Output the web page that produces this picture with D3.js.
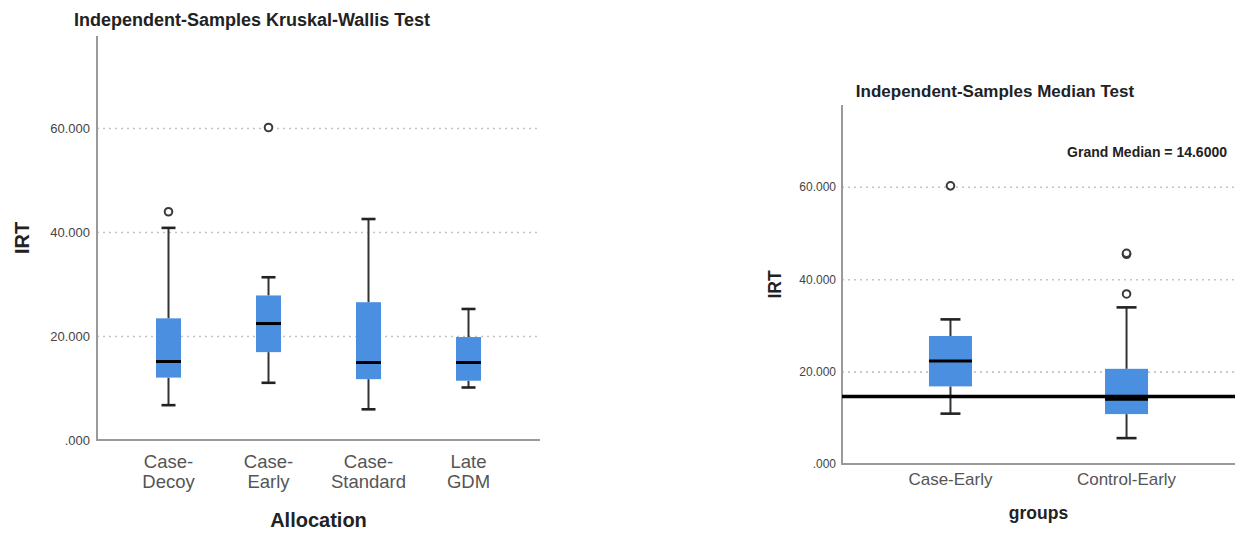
<!DOCTYPE html>
<html>
<head>
<meta charset="utf-8">
<script src="https://cdn.jsdelivr.net/npm/d3@7"></script>
<style>
  html, body { margin: 0; padding: 0; background: #fff; }
  svg { display: block; font-family: "Liberation Sans", Arial, sans-serif; }
</style>
</head>
<body>
<svg id="chart" width="1237" height="533"></svg>
<script>
// Shared value axis
const yMax = 77.7;
const yTickValues = [0, 20, 40, 60];
const yTickLabels = [".000", "20.000", "40.000", "60.000"];

// Kruskal-Wallis panel: IRT by allocation
const kwCategories = ["Case-Decoy", "Case-Early", "Case-Standard", "Late GDM"];
const kwTickLines = [["Case-", "Decoy"], ["Case-", "Early"], ["Case-", "Standard"], ["Late", "GDM"]];
const kwLow = [6.7, 11.0, 5.9, 10.1];
const kwQ1 = [12.0, 16.9, 11.7, 11.4];
const kwMedian = [15.1, 22.4, 14.9, 14.9];
const kwQ3 = [23.4, 27.8, 26.5, 19.8];
const kwHigh = [40.8, 31.3, 42.5, 25.2];
const kwOutliers = [[43.9], [60.1], [], []];

// Median test panel: IRT by group
const mtCategories = ["Case-Early", "Control-Early"];
const mtTickLines = [["Case-Early"], ["Control-Early"]];
const mtLow = [10.9, 5.6];
const mtQ1 = [16.8, 10.8];
const mtMedian = [22.3, 14.0];
const mtQ3 = [27.7, 20.6];
const mtHigh = [31.3, 33.9];
const mtOutliers = [[60.2], [45.4, 45.6, 36.8]];
const grandMedian = 14.6;

const BOX_FILL = "#4a8fe0";
const svg = d3.select("#chart");

function drawPanel(p) {
  const g = svg.append("g");
  const y = d3.scaleLinear().domain([0, yMax]).range([p.bottom, p.top]);
  const x = d3.scalePoint().domain(p.categories).range([p.left, p.right]).padding(p.padding);

  // dotted gridlines + tick labels
  const yAxis = d3.axisLeft(y)
    .tickValues(yTickValues)
    .tickFormat((d, i) => yTickLabels[i])
    .tickSizeInner(-(p.right - p.left))
    .tickSizeOuter(0)
    .tickPadding(7);
  const ya = g.append("g").attr("transform", `translate(${p.left},0)`).call(yAxis);
  ya.select(".domain").remove();
  ya.selectAll(".tick line")
    .attr("stroke", "#c4c4c4")
    .attr("stroke-width", 1.6)
    .attr("stroke-dasharray", "2,4")
    .attr("opacity", d => d === 0 ? 0 : 1);
  ya.selectAll(".tick text")
    .attr("fill", "#444")
    .style("font-size", p.tickFont + "px")
    .attr("x", -(p.tickPad));

  // axis lines
  g.append("line").attr("x1", p.left).attr("x2", p.left).attr("y1", p.top).attr("y2", p.bottom)
    .attr("stroke", "#9a9a9a").attr("stroke-width", 2);
  g.append("line").attr("x1", p.left - 1).attr("x2", p.right).attr("y1", p.bottom).attr("y2", p.bottom)
    .attr("stroke", "#9a9a9a").attr("stroke-width", 2);

  // boxes
  const rows = p.categories.map((c, i) => ({
    c, low: p.low[i], q1: p.q1[i], med: p.median[i], q3: p.q3[i], high: p.high[i], out: p.outliers[i]
  }));
  const bw = p.boxWidth, cw = p.capWidth;
  const b = g.selectAll("g.box").data(rows).join("g").attr("class", "box");
  b.append("line").attr("x1", d => x(d.c)).attr("x2", d => x(d.c))
    .attr("y1", d => y(d.high)).attr("y2", d => y(d.q3))
    .attr("stroke", "#333").attr("stroke-width", 2);
  b.append("line").attr("x1", d => x(d.c)).attr("x2", d => x(d.c))
    .attr("y1", d => y(d.q1)).attr("y2", d => y(d.low))
    .attr("stroke", "#333").attr("stroke-width", 2);
  b.append("line").attr("x1", d => x(d.c) - cw / 2).attr("x2", d => x(d.c) + cw / 2)
    .attr("y1", d => y(d.high)).attr("y2", d => y(d.high))
    .attr("stroke", "#222").attr("stroke-width", 2.6);
  b.append("line").attr("x1", d => x(d.c) - cw / 2).attr("x2", d => x(d.c) + cw / 2)
    .attr("y1", d => y(d.low)).attr("y2", d => y(d.low))
    .attr("stroke", "#222").attr("stroke-width", 2.6);
  b.append("rect").attr("x", d => x(d.c) - bw / 2).attr("width", bw)
    .attr("y", d => y(d.q3)).attr("height", d => y(d.q1) - y(d.q3))
    .attr("fill", BOX_FILL);
  b.append("line").attr("x1", d => x(d.c) - bw / 2).attr("x2", d => x(d.c) + bw / 2)
    .attr("y1", d => y(d.med)).attr("y2", d => y(d.med))
    .attr("stroke", "#000").attr("stroke-width", 3);
  b.selectAll("circle").data(d => d.out.map(v => ({ c: d.c, v }))).join("circle")
    .attr("cx", d => x(d.c)).attr("cy", d => y(d.v)).attr("r", 3.8)
    .attr("fill", "#fff").attr("stroke", "#3a3a3a").attr("stroke-width", 2);

  if (p.refLine != null) {
    g.append("line").attr("x1", p.left).attr("x2", p.right)
      .attr("y1", y(p.refLine)).attr("y2", y(p.refLine))
      .attr("stroke", "#000").attr("stroke-width", 3.5);
    g.append("text").attr("x", p.refLabelX).attr("y", p.refLabelY)
      .attr("text-anchor", "end").attr("font-weight", "bold")
      .style("font-size", "14px").attr("fill", "#222")
      .text("Grand Median = " + p.refLine.toFixed(4));
  }

  // category labels
  const lab = g.selectAll("text.cat").data(p.categories).join("text").attr("class", "cat")
    .attr("text-anchor", "middle").attr("fill", "#555")
    .style("font-size", p.catFont + "px");
  lab.each(function (c, i) {
    const t = d3.select(this);
    p.tickLines[i].forEach((line, k) => {
      t.append("tspan").attr("x", x(c)).attr("y", p.catY + k * p.catLine).text(line);
    });
  });

  // titles
  g.append("text").attr("x", p.titleX).attr("y", p.titleY).attr("text-anchor", "middle")
    .attr("font-weight", "bold").style("font-size", p.titleFont + "px").attr("fill", "#222")
    .text(p.title);
  g.append("text").attr("x", (p.left + p.right) / 2).attr("y", p.xTitleY).attr("text-anchor", "middle")
    .attr("font-weight", "bold").style("font-size", p.xTitleFont + "px").attr("fill", "#222")
    .text(p.xTitle);
  g.append("text")
    .attr("transform", `translate(${p.yTitleX},${(p.top + p.bottom) / 2}) rotate(-90)`)
    .attr("text-anchor", "middle").attr("dominant-baseline", "central")
    .attr("font-weight", "bold").style("font-size", p.yTitleFont + "px").attr("fill", "#222")
    .text("IRT");
}

drawPanel({
  categories: kwCategories, tickLines: kwTickLines,
  low: kwLow, q1: kwQ1, median: kwMedian, q3: kwQ3, high: kwHigh, outliers: kwOutliers,
  left: 97, right: 540, top: 36, bottom: 440, padding: 0.715,
  boxWidth: 25, capWidth: 14, tickFont: 13, tickPad: 7,
  catFont: 18.5, catY: 468, catLine: 20,
  title: "Independent-Samples Kruskal-Wallis Test", titleX: 252, titleY: 26, titleFont: 18,
  xTitle: "Allocation", xTitleY: 527, xTitleFont: 20, yTitleX: 22, yTitleFont: 20
});

drawPanel({
  categories: mtCategories, tickLines: mtTickLines,
  low: mtLow, q1: mtQ1, median: mtMedian, q3: mtQ3, high: mtHigh, outliers: mtOutliers,
  left: 842, right: 1235, top: 105, bottom: 464, padding: 0.616,
  boxWidth: 43, capWidth: 20, tickFont: 12, tickPad: 6,
  catFont: 17, catY: 485, catLine: 18,
  refLine: grandMedian, refLabelX: 1227, refLabelY: 157,
  title: "Independent-Samples Median Test", titleX: 995, titleY: 97, titleFont: 17,
  xTitle: "groups", xTitleY: 519, xTitleFont: 17.5, yTitleX: 775, yTitleFont: 17.5
});
</script>
</body>
</html>
